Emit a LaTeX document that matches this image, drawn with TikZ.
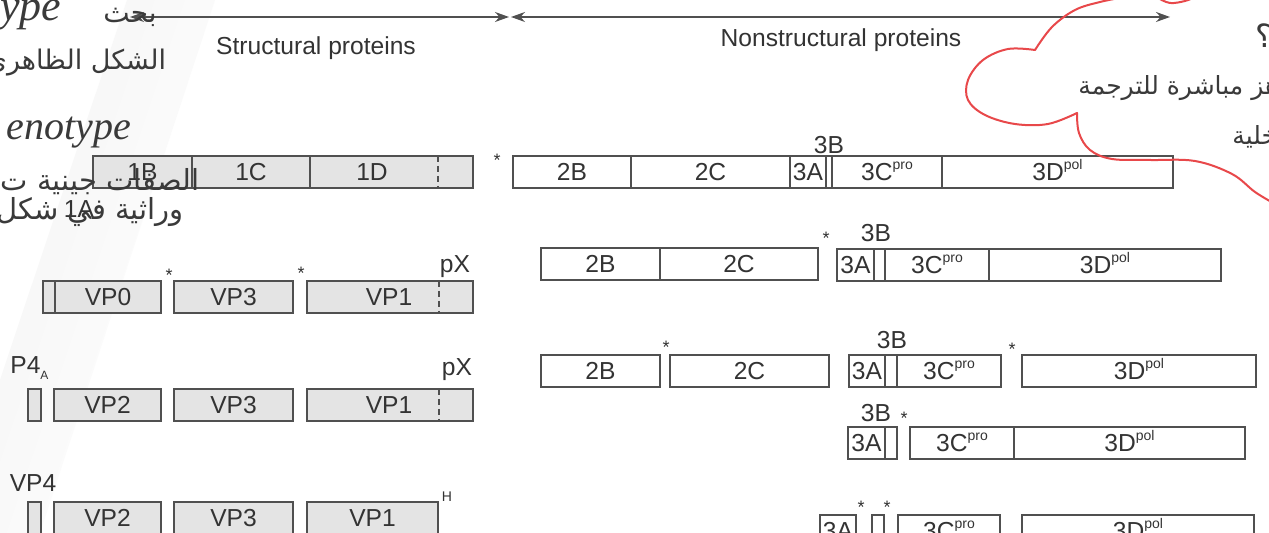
\documentclass[tikz,border=0pt]{standalone}
\usepackage{fontspec}
\setmainfont{Liberation Sans}
\newfontfamily\arabicfont[Script=Arabic]{DejaVu Sans}
\newfontfamily\handfont{Liberation Serif}
\TeXXeTstate=1
\usetikzlibrary{calc, positioning}
\usetikzlibrary{arrows.meta}

\definecolor{boxline}{HTML}{505050}
\definecolor{boxfill}{HTML}{E4E4E4}
\definecolor{ink}{HTML}{3A3A3A}
\definecolor{penred}{HTML}{E8484A}

\newcommand{\supr}[1]{\raisebox{0.45em}{\fontsize{7}{7}\selectfont #1}}

\tikzset{
  seg/.style={draw=boxline, line width=0.8pt, rectangle, inner sep=0pt, outer sep=0pt,
    minimum height=16pt, text height=8.8pt, text depth=0pt, anchor=north west,
    text=black!80, font=\fontsize{12.3}{14}\selectfont},
  wseg/.style={seg, fill=white},
  gseg/.style={seg, fill=boxfill},
  tag/.style={inner sep=0pt, text=black!80, font=\fontsize{12.3}{14}\selectfont},
  ast/.style={inner sep=0pt, anchor=north, text=black!80, font=\fontsize{9}{9}\selectfont},
  hand/.style={inner sep=0pt, text=ink},
  pen/.style={penred, line width=1pt, line cap=round, line join=round},
}

\begin{document}
\begin{tikzpicture}[x=0.5pt, y=-0.5pt]
\useasboundingbox (0,0) rectangle (1269,533);
\clip (0,0) rectangle (1269,533);
\fill[white] (0,0) rectangle (1269,533);
\shade[left color=black!4, right color=white, shading angle=71.5]
  (127,0) -- (215,0) -- (40,533) -- (0,533) -- (0,380) -- cycle;

\coordinate (sL) at (130,17);
\coordinate (sR) at (509,17);
\coordinate (nL) at (511,17);
\coordinate (nR) at (1170,17);
\draw[boxline, line width=0.7pt, {Stealth[length=7pt, width=5pt]}-{Stealth[length=7pt, width=5pt]}] (sL) -- (sR);
\draw[boxline, line width=0.7pt, {Stealth[length=7pt, width=5pt]}-{Stealth[length=7pt, width=5pt]}] (nL) -- (nR);
\node[tag] (struct) at (316,48) {Structural proteins};
\node[tag] (nonstruct) at (841,40) {Nonstructural proteins};

% polyprotein
\foreach \nm/\xa/\xb/\lbl in {a1B/93/192/1B, a1C/192/310/1C, a1D/310/473/{}}
  \node[gseg, minimum width={(\xb-\xa)*0.5pt}] (\nm) at (\xa,156) {\lbl};
\node[tag] (a1Dlab) at (372,172) {1D};
\draw[boxline, densely dashed, line width=0.6pt] ($(a1D.north east)+(-35,0)$) -- ($(a1D.south east)+(-35,0)$);
\node[tag] (a1Alab) at (79,209) {1A};
\node[ast] (a2A) at (497,154) {*};
\foreach \nm/\xa/\xb/\lbl in {a2B/513/631/2B, a2C/631/790/2C, a3A/790/826/3A, a3B/826/832/{},
    a3C/832/942/{3C\supr{pro}}, a3D/942/1173/{3D\supr{pol}}}
  \node[wseg, minimum width={(\xb-\xa)*0.5pt}] (\nm) at (\xa,156) {\lbl};
\node[tag] (a3Blab) at (829,145) {3B};

% P1 cleavage
\foreach \nm/\xa/\xb/\lbl in {b4/43/55/{}, b0/55/161/VP0, b3/174/293/VP3, b1/307/473/{}}
  \node[gseg, minimum width={(\xb-\xa)*0.5pt}] (\nm) at (\xa,281) {\lbl};
\node[tag] (b1lab) at (389,297) {VP1};
\draw[boxline, densely dashed, line width=0.6pt] ($(b1.north east)+(-34,0)$) -- ($(b1.south east)+(-34,0)$);
\node[tag] (bpX) at (455,267) {pX};
\node[ast] (bs1) at (169,269) {*};
\node[ast] (bs2) at (301,267) {*};

\foreach \nm/\xa/\xb/\lbl in {c2B/541/660/2B, c2C/660/818/2C}
  \node[wseg, minimum width={(\xb-\xa)*0.5pt}] (\nm) at (\xa,248) {\lbl};
\node[ast] (cs) at (826,232) {*};
\foreach \nm/\xa/\xb/\lbl in {c3A/837/874/3A, c3B/874/885/{}, c3C/885/989/{3C\supr{pro}}, c3D/989/1221/{3D\supr{pol}}}
  \node[wseg, minimum width={(\xb-\xa)*0.5pt}] (\nm) at (\xa,249) {\lbl};
\node[tag] (c3Blab) at (876,233) {3B};

% second row of cleavages
\foreach \nm/\xa/\xb/\lbl in {d4/28/41/{}, d2/54/161/VP2, d3/174/293/VP3, d1/307/473/{}}
  \node[gseg, minimum width={(\xb-\xa)*0.5pt}] (\nm) at (\xa,389) {\lbl};
\node[tag] (d1lab) at (389,405) {VP1};
\draw[boxline, densely dashed, line width=0.6pt] ($(d1.north east)+(-34,0)$) -- ($(d1.south east)+(-34,0)$);
\node[tag] (dpX) at (457,370) {pX};
\node[tag, anchor=west] (dP4) at (10,368) {P4\raisebox{-0.5ex}{\fontsize{6}{6}\selectfont A}};

\node[wseg, minimum width=59.5pt] (e2B) at (541,355) {2B};
\node[ast] (es1) at (666,341) {*};
\node[wseg, minimum width=79.5pt] (e2C) at (670,355) {2C};
\foreach \nm/\xa/\xb/\lbl in {e3A/849/885/3A, e3B/885/897/{}, e3C/897/1001/{3C\supr{pro}}}
  \node[wseg, minimum width={(\xb-\xa)*0.5pt}] (\nm) at (\xa,355) {\lbl};
\node[tag] (e3Blab) at (892,340) {3B};
\node[ast] (es2) at (1012,343) {*};
\node[wseg, minimum width=117pt] (e3D) at (1022,355) {3D\supr{pol}};

\foreach \nm/\xa/\xb/\lbl in {f3A/848/885/3A, f3B/885/897/{}, f3C/910/1014/{3C\supr{pro}}, f3D/1014/1245/{3D\supr{pol}}}
  \node[wseg, minimum width={(\xb-\xa)*0.5pt}] (\nm) at (\xa,427) {\lbl};
\node[tag] (f3Blab) at (876,413) {3B};
\node[ast] (fs) at (904,412) {*};

% mature products
\foreach \nm/\xa/\xb/\lbl in {g4/28/41/{}, g2/54/161/VP2, g3/174/293/VP3, g1/307/438/VP1}
  \node[gseg, minimum width={(\xb-\xa)*0.5pt}] (\nm) at (\xa,502) {\lbl};
\node[tag] (gVP4) at (33,483) {VP4};
\node[tag, font=\fontsize{7}{7}\selectfont] (gH) at (447,497) {H};

\foreach \nm/\xa/\xb/\lbl in {h3A/820/856/3A, h3B/872/884/{}, h3C/898/1000/{3C\supr{pro}}, h3D/1022/1254/{3D\supr{pol}}}
  \node[wseg, minimum width={(\xb-\xa)*0.5pt}] (\nm) at (\xa,515) {\lbl};
\node[ast] (hs1) at (861,501) {*};
\node[ast] (hs2) at (887,501) {*};

% notes
\draw[pen] plot[smooth, tension=0.6] coordinates {(1035,50) (1052,27) (1075,10) (1100,2) (1125,-3)};
\draw[pen] plot[smooth, tension=0.6] coordinates {(1035,50) (1008,49) (983,60) (968,80) (968,100) (985,115) (1015,124) (1048,124) (1077,113)};
\draw[pen] plot[smooth, tension=0.6] coordinates {(1077,113) (1079,133) (1090,150) (1112,159) (1150,160) (1195,161) (1232,174) (1255,192) (1275,204)};
\draw[pen] plot[smooth, tension=0.6] coordinates {(1158,-2) (1170,3) (1185,1) (1195,-3)};

\node[hand, anchor=base west, font={\handfont\itshape\fontsize{22}{22}\selectfont}] (hype) at (0,21) {ype};
\node[hand, font={\arabicfont\fontsize{14}{18}\selectfont}] (hbahth) at (130,17) {\beginR بحث\endR};
\node[hand, font={\arabicfont\fontsize{13.5}{18}\selectfont}] (hpheno) at (76,63) {\beginR الشكل الظاهري\endR};
\node[hand, anchor=base west, font={\handfont\itshape\fontsize{20}{20}\selectfont}] (hgeno) at (6,140) {enotype};
\node[hand, font={\arabicfont\fontsize{14.5}{18}\selectfont}] (hsifat) at (100,182) {\beginR الصفات جينية ت\endR};
\node[hand, font={\arabicfont\fontsize{14.5}{18}\selectfont}] (hwirath) at (90,212) {\beginR وراثية في شكل\endR};
\node[hand, anchor=base west, font={\arabicfont\fontsize{12.5}{15}\selectfont}] (hready) at (1078,95) {\beginR ـه جاهز مباشرة للترجمة\endR};
\node[hand, anchor=base west, font={\arabicfont\fontsize{12.5}{15}\selectfont}] (hcell) at (1232,145) {\beginR الخلية\endR};
\node[hand, font={\arabicfont\fontsize{16}{18}\selectfont}] (hq) at (1264,36) {؟};
\end{tikzpicture}
\end{document}
